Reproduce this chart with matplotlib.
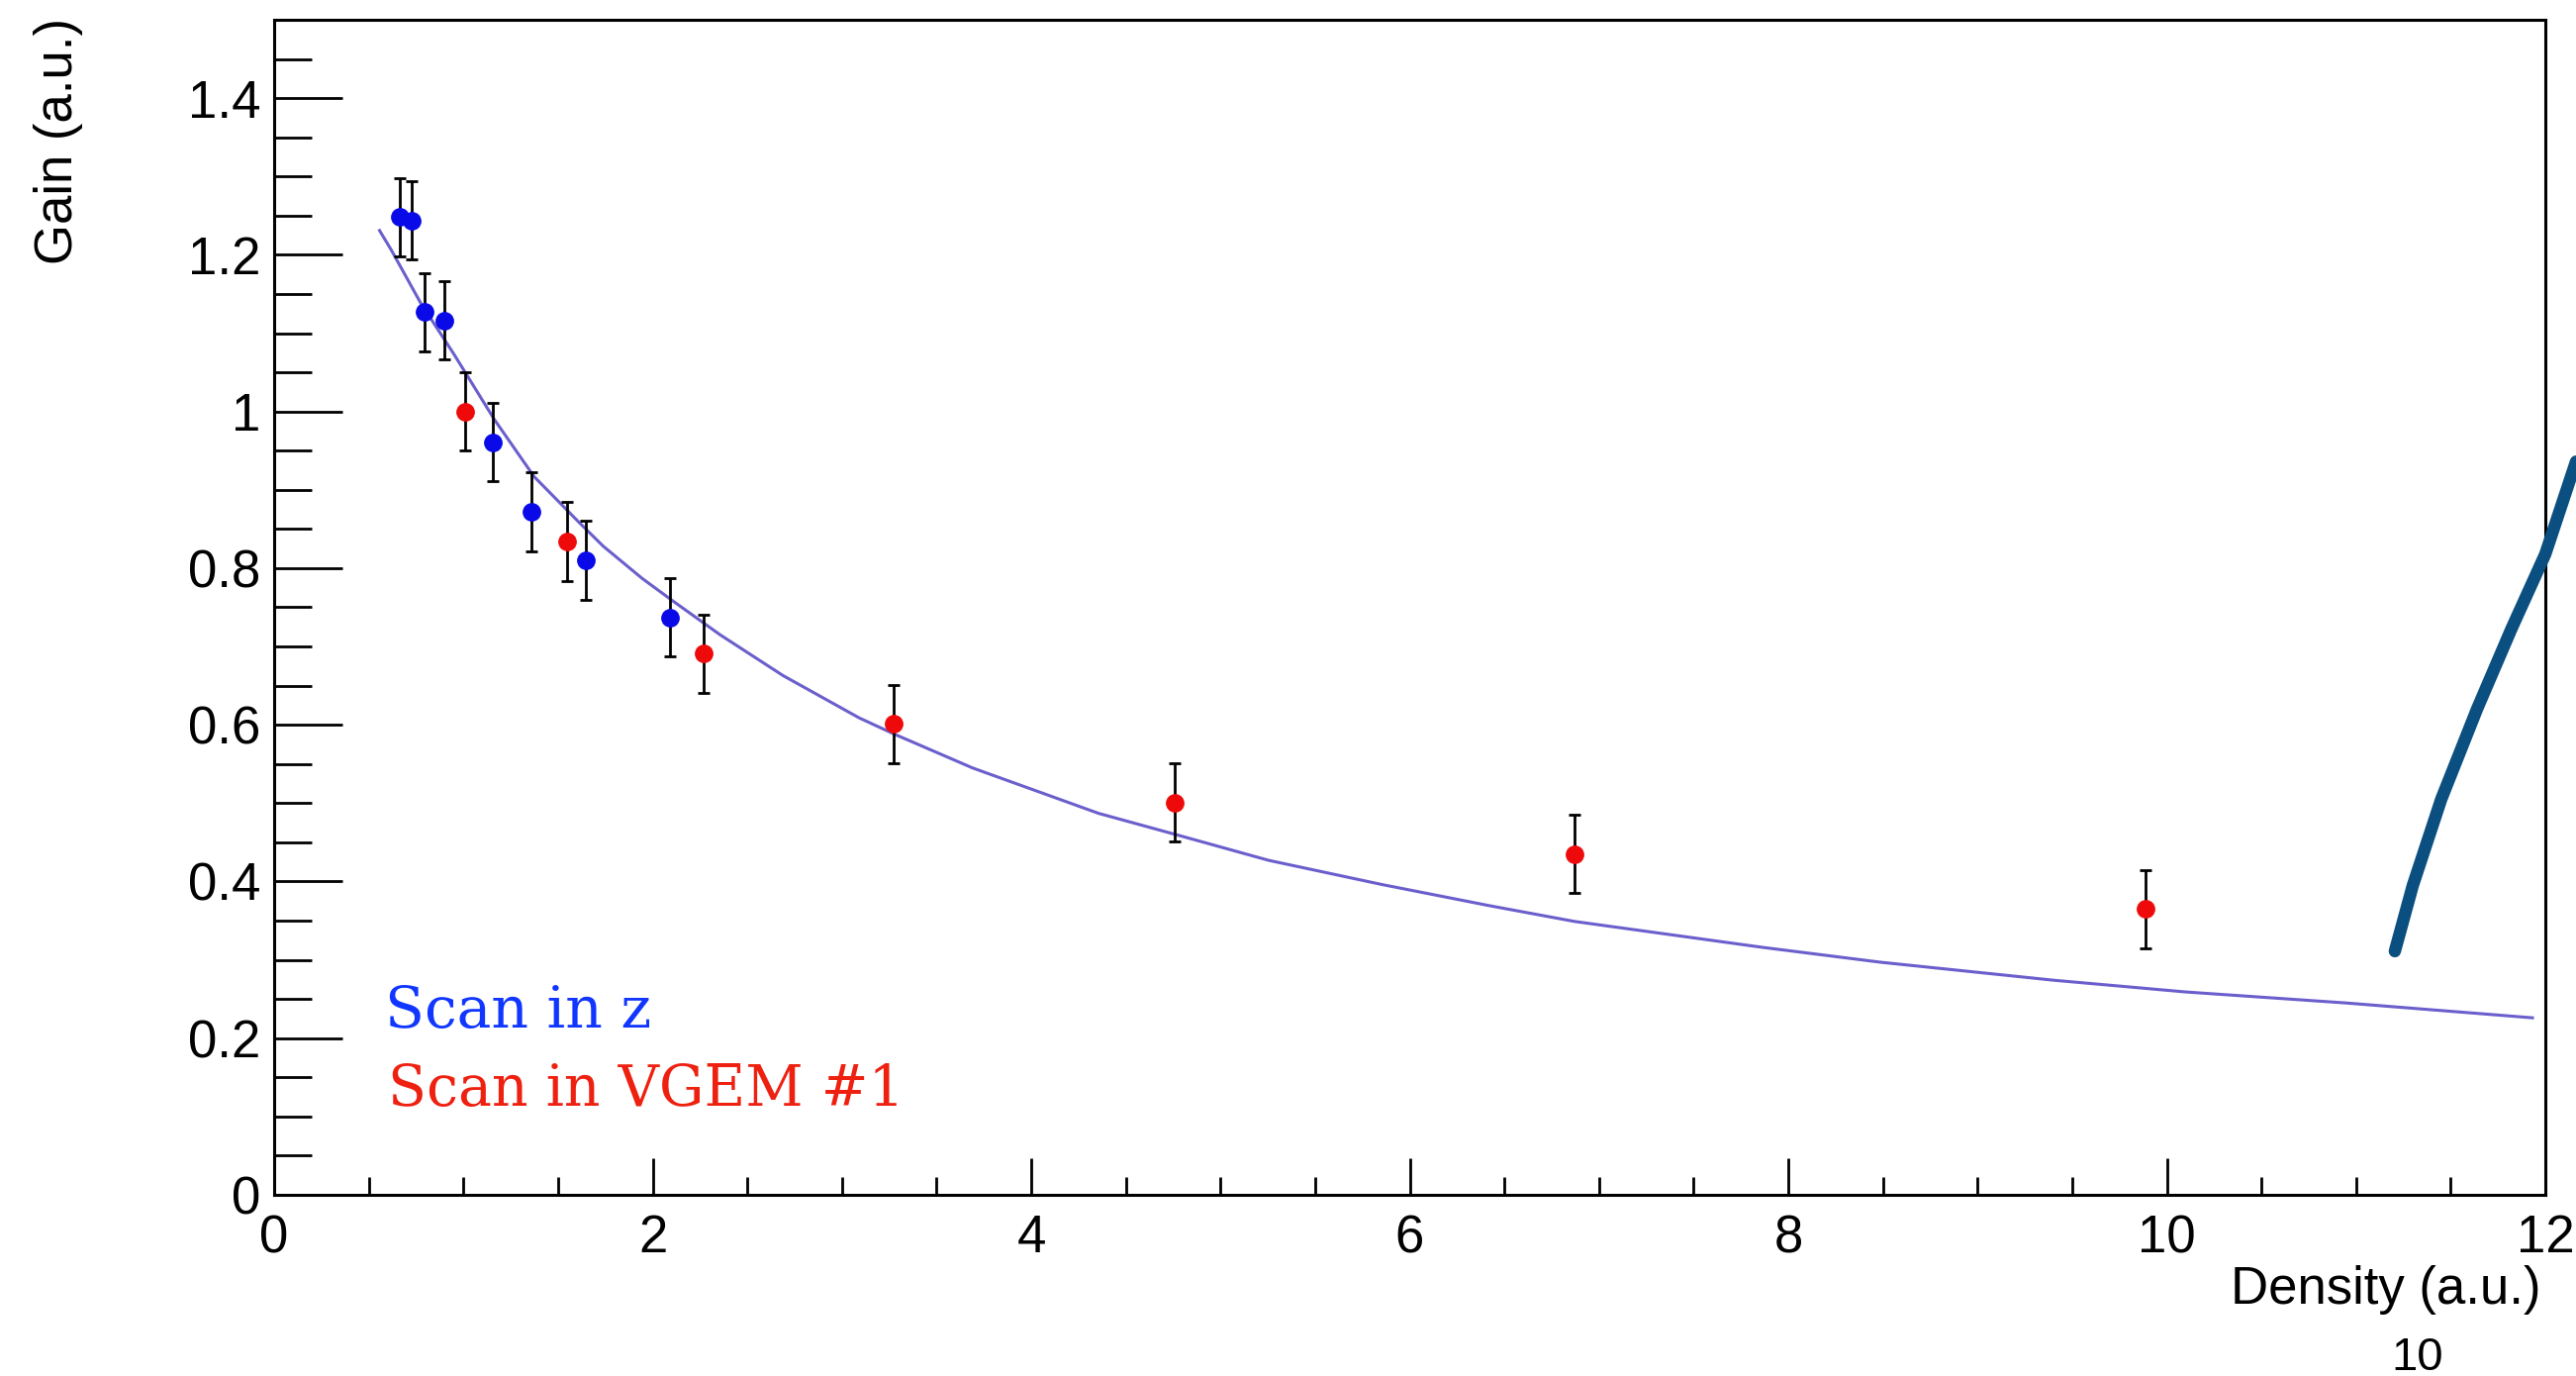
import numpy as np
import matplotlib
matplotlib.use('Agg')
import matplotlib.pyplot as plt
from matplotlib.ticker import MultipleLocator, FormatStrFormatter

# scan in z (blue)
z_density = [0.662, 0.725, 0.797, 0.899, 1.157, 1.358, 1.649, 2.094]
z_gain = [1.248, 1.244, 1.127, 1.116, 0.961, 0.872, 0.810, 0.737]
z_err = [0.05, 0.05, 0.05, 0.05, 0.05, 0.05, 0.05, 0.05]

# scan in VGEM #1 (red)
v_density = [1.007, 1.547, 2.268, 3.275, 4.760, 6.868, 9.887]
v_gain = [1.000, 0.834, 0.691, 0.601, 0.501, 0.435, 0.365]
v_err = [0.05, 0.05, 0.05, 0.05, 0.05, 0.05, 0.05]

# fit curve
fit_x = [0.557, 0.617, 0.773, 0.953, 1.163, 1.373, 1.613, 1.739, 1.944, 2.096,
         2.356, 2.688, 3.090, 3.278, 3.690, 4.356, 4.763, 5.255, 5.856, 6.424,
         6.871, 7.862, 8.486, 9.401, 10.099, 10.943, 11.932]
fit_y = [1.231, 1.207, 1.139, 1.072, 0.990, 0.917, 0.858, 0.828, 0.787, 0.760,
         0.715, 0.663, 0.609, 0.588, 0.545, 0.487, 0.460, 0.427, 0.396, 0.369,
         0.349, 0.316, 0.297, 0.274, 0.259, 0.245, 0.226]

# hand-drawn pen stroke on the slide
stroke_x = [11.205, 11.30, 11.45, 11.639, 11.82, 12.0, 12.162]
stroke_y = [0.311, 0.395, 0.505, 0.620, 0.722, 0.818, 0.936]

W, H = 2603, 1390
plt.rcParams['font.family'] = ['Liberation Sans', 'DejaVu Sans']

fig = plt.figure(figsize=(W / 100, H / 100), dpi=100)
ax = fig.add_axes([277 / W, 1 - 1207 / H, (2572 - 277) / W, (1207 - 20) / H])

ax.plot(fit_x, fit_y, color='#6a5fcc', linewidth=2.2, zorder=2)
ax.errorbar(z_density, z_gain, yerr=z_err, fmt='o', color='#0a0ae8', ecolor='black',
            elinewidth=2.0, capsize=4, capthick=2.0, markersize=12.5, zorder=3)
ax.errorbar(v_density, v_gain, yerr=v_err, fmt='o', color='#ee0a0a', ecolor='black',
            elinewidth=2.0, capsize=4, capthick=2.0, markersize=12.5, zorder=3)

ax.plot(stroke_x, stroke_y, color='#0b4f80', linewidth=9, solid_capstyle='round',
        solid_joinstyle='round', clip_on=False, zorder=5)

ax.set_xlim(0, 12)
ax.set_ylim(0, 1.5)
ax.xaxis.set_major_locator(MultipleLocator(2))
ax.xaxis.set_minor_locator(MultipleLocator(0.5))
ax.yaxis.set_major_locator(MultipleLocator(0.2))
ax.yaxis.set_minor_locator(MultipleLocator(0.05))
ax.xaxis.set_major_formatter(FormatStrFormatter('%g'))
ax.yaxis.set_major_formatter(FormatStrFormatter('%g'))

ax.tick_params(axis='x', which='major', direction='in', length=27, width=2, labelsize=38, pad=14)
ax.tick_params(axis='x', which='minor', direction='in', length=13, width=2)
ax.tick_params(axis='y', which='major', direction='in', length=50, width=2, labelsize=38, pad=10)
ax.tick_params(axis='y', which='minor', direction='in', length=27, width=2)
for sp in ax.spines.values():
    sp.set_linewidth(2.2)

fig.text(2567 / W, 1 - 1303 / H, 'Density (a.u.)', ha='right', va='center', fontsize=38)
fig.text(59 / W, 1 - 18 / H, 'Gain (a.u.)', ha='center', va='top', rotation=90, fontsize=38)

ax.text(0.586, 0.213, 'Scan in z', color='#1036ff', fontsize=42,
        family='DejaVu Serif', ha='left', va='baseline')
ax.text(0.601, 0.114, 'Scan in VGEM #1', color='#ee2010', fontsize=41,
        family='DejaVu Serif', ha='left', va='baseline')

fig.text(2443 / W, 1 - 1372 / H, '10', ha='center', va='center', fontsize=34)

fig.savefig('out.png', dpi=100)
